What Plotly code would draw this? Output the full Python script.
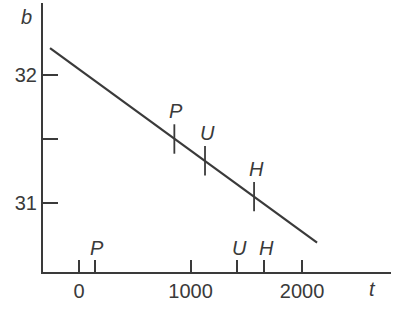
import plotly.graph_objects as go

# Data
line_t = [-260, 2135]
line_b = [32.21, 30.69]

mark_labels = ["P", "U", "H"]
mark_t = [855, 1130, 1570]
mark_b = [31.50, 31.33, 31.05]

axis_event_labels = ["P", "U", "H"]
axis_event_t = [140, 1420, 1660]

x_tick_vals = [0, 1000, 2000]
x_tick_text = ["0", "1000", "2000"]
y_tick_vals = [31, 31.5, 32]
y_tick_text = ["31", "", "32"]

INK = "#3a3a3a"
FONT = "Liberation Sans, Arial, Helvetica, sans-serif"
FS = 20

fig = go.Figure()

fig.add_trace(go.Scatter(x=line_t, y=line_b, mode="lines",
                         line=dict(color=INK, width=2.2), hoverinfo="skip",
                         showlegend=False))

half = 0.115
seg_x, seg_y = [], []
for t, b in zip(mark_t, mark_b):
    seg_x += [t, t, None]
    seg_y += [b - half, b + half, None]
fig.add_trace(go.Scatter(x=seg_x, y=seg_y, mode="lines",
                         line=dict(color=INK, width=1.8), hoverinfo="skip",
                         showlegend=False))

annotations = []
for lab, t, b in zip(mark_labels, mark_t, mark_b):
    annotations.append(dict(x=t, y=b, xref="x", yref="y", text=lab,
                            showarrow=False, yshift=28, xshift=2,
                            xanchor="center", yanchor="middle",
                            font=dict(family=FONT, size=FS, color=INK, style="italic")))
for lab, t in zip(axis_event_labels, axis_event_t):
    annotations.append(dict(x=t, y=30.648, xref="x", yref="y", text=lab,
                            showarrow=False, xshift=2,
                            xanchor="center", yanchor="middle",
                            font=dict(family=FONT, size=FS, color=INK, style="italic")))
annotations.append(dict(x=-0.046, y=0.948, xref="paper", yref="paper", text="b",
                        showarrow=False, xanchor="center", yanchor="middle",
                        font=dict(family=FONT, size=FS, color=INK, style="italic")))
annotations.append(dict(x=0.948, y=-0.062, xref="paper", yref="paper", text="t",
                        showarrow=False, xanchor="center", yanchor="middle",
                        font=dict(family=FONT, size=FS, color=INK, style="italic")))

fig.update_layout(
    width=400, height=310,
    margin=dict(l=43, r=9, t=3, b=38),
    paper_bgcolor="white", plot_bgcolor="white",
    annotations=annotations,
    xaxis=dict(range=[-323, 2798], showgrid=False, zeroline=False,
               showline=True, linecolor=INK, linewidth=2,
               tickmode="array",
               tickvals=x_tick_vals + axis_event_t,
               ticktext=x_tick_text + ["", "", ""],
               ticks="inside", ticklen=12, tickwidth=1.8, tickcolor=INK,
               tickfont=dict(family=FONT, size=FS, color=INK)),
    yaxis=dict(range=[30.461, 32.5625], showgrid=False, zeroline=False,
               showline=True, linecolor=INK, linewidth=2,
               tickmode="array", tickvals=y_tick_vals, ticktext=y_tick_text,
               ticks="inside", ticklen=15, tickwidth=1.8, tickcolor=INK,
               tickfont=dict(family=FONT, size=FS, color=INK)),
)

fig.write_html("out.html")
